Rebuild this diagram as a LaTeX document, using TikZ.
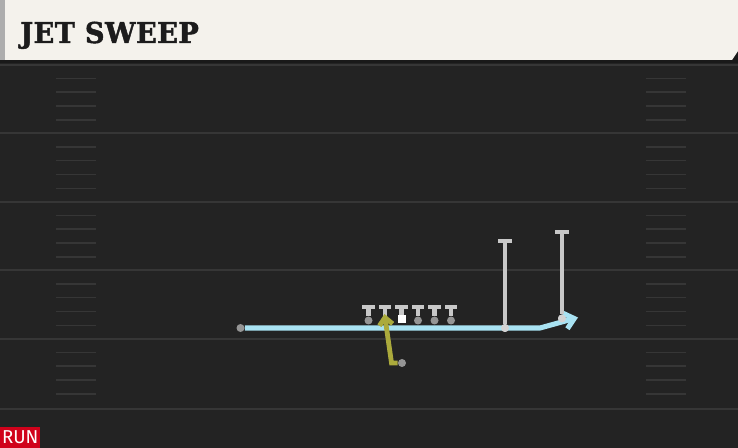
\documentclass[tikz,border=0pt]{standalone}
\usepackage{fontspec}
\usetikzlibrary{arrows.meta}
\newfontfamily\titlefont{DejaVu Serif}[FakeBold=1.6, FakeStretch=0.95, LetterSpace=1.5]
\newfontfamily\tagfont{Fira Sans}

\definecolor{field}{HTML}{232323}
\definecolor{yardgray}{HTML}{363636}
\definecolor{hashgray}{HTML}{363636}
\definecolor{paper}{HTML}{F4F2EC}
\definecolor{ink}{HTML}{1C1C1C}
\definecolor{runred}{HTML}{D0021B}
\definecolor{motionblue}{HTML}{A8E2F2}
\definecolor{rbyellow}{HTML}{ABAA3C}
\definecolor{blockgray}{HTML}{C8C8C8}
\definecolor{dotgray}{HTML}{959595}

\tikzset{
  yardline/.style={draw=yardgray, line width=1.5pt},
  hashmark/.style={draw=hashgray, line width=1.3pt},
  player/.style={circle, fill=dotgray, inner sep=0pt, minimum size=6pt},
  ball/.style={rectangle, fill=white, inner sep=0pt, minimum size=6.2pt},
  block/.style={draw=blockgray, line width=3.6pt, -{Rectangle[length=3.2pt, width=9.5pt, line width=0pt]}},
  motion/.style={draw=motionblue, line width=3.8pt, line join=miter, -{Straight Barb[length=7pt, width=12pt]}},
  rbpath/.style={draw=rbyellow, line width=3.6pt, line join=miter, -{Straight Barb[length=5.5pt, width=10pt]}}
}

\begin{document}
\begin{tikzpicture}[x=0.75pt, y=-0.75pt]
        \useasboundingbox (0,0) rectangle (738,448);
        % Field and markings
        \fill[field] (0,0) rectangle (738,448);
        \foreach \y in {65,133.5,202,270.5,339,408.5}
          \draw[yardline] (0,\y) -- (738,\y);
        \foreach \y in {65,133.5,202,270.5,339}
          \foreach \d in {13.5,27,41,55} {
            \draw[hashmark] (56,\y+\d) -- (96,\y+\d);
            \draw[hashmark] (646,\y+\d) -- (686,\y+\d);
          }

        % Header
        \fill[black!90] (0,0) rectangle (738,63);
        \fill[black!32] (0,0) rectangle (5,60);
        \fill[paper] (5,0) -- (738,0) -- (738,51) -- (732,60) -- (5,60) -- cycle;
        \node (title) [anchor=base west, inner sep=0pt, text=ink, font=\titlefont\bfseries\fontsize{21.5pt}{24pt}\selectfont] at (20,43) {JET SWEEP};

        % Play tag
        \node (tag) [anchor=south west, fill=runred, text=white, inner sep=0pt, minimum width=30pt, minimum height=15.5pt, font=\tagfont\fontsize{14pt}{16pt}\selectfont] at (0,448) {RUN};

        % Players
        \node (jet) [player] at (240.5,328) {};
        \node (wrone) [player, fill=blockgray!80] at (505,328) {};
        \node (wrtwo) [player, fill=blockgray!80] at (562,318.5) {};
        \node (rb) [player] at (402,363) {};
        \node (lt) [player] at (368.5,320.5) {};
        \node (lg) [player] at (385,320.5) {};
        \node (ctr) [ball] at (401.7,319) {};
        \node (rg) [player] at (418,320.5) {};
        \node (rt) [player] at (434.5,320.5) {};
        \node (te) [player] at (451,320.5) {};
        \coordinate (bend) at (540,328);
        \coordinate (jettip) at (578,317.5);
        \coordinate (wronetop) at (505,239);
        \coordinate (wrtwotop) at (562,230);
        \coordinate (rbturn) at (391.5,363);
        \coordinate (rbtip) at (384.5,314);

        % Routes
        \draw[motion] (jet) -- (bend) -- (jettip);
        \draw[block, -{Rectangle[length=3pt, width=10pt, line width=0pt]}] (wrone) -- (wronetop);
        \draw[block, -{Rectangle[length=3pt, width=10pt, line width=0pt]}] (wrtwo) -- (wrtwotop);
        \node at (wrone) [player, fill=blockgray!80] {};
        \node at (wrtwo) [player, fill=blockgray!80] {};
        \draw[block] (lt) -- ++(0,-15.5);
        \draw[block] (lg) -- ++(0,-15.5);
        \draw[block] (ctr) -- ++(0,-14);
        \draw[block] (rg) -- ++(0,-15.5);
        \draw[block] (rt) -- ++(0,-15.5);
        \draw[block] (te) -- ++(0,-15.5);
        \draw[rbpath] (rb) -- (rbturn) -- (rbtip);
    \end{tikzpicture}
\end{document}
